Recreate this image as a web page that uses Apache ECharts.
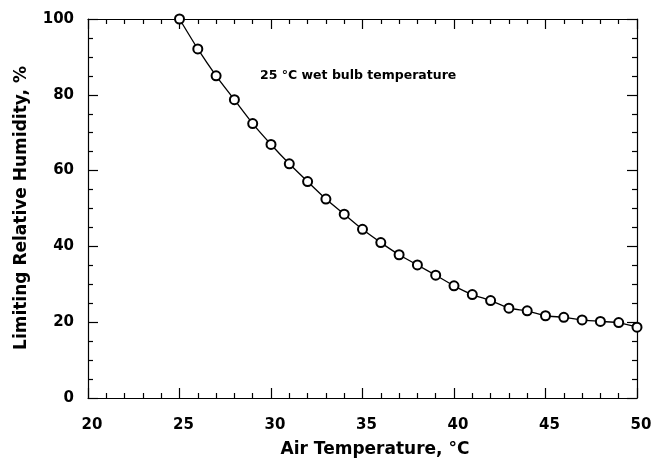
<!DOCTYPE html>
<html>
<head>
<meta charset="utf-8">
<script src="https://cdn.jsdelivr.net/npm/echarts@6/dist/echarts.min.js"></script>
<style>
  html, body { margin: 0; padding: 0; background: #fff; }
  #main { width: 664px; height: 461px; }
</style>
</head>
<body>
<div id="main"></div>
<script>
// air temperature (°C) and limiting relative humidity (%) at 25 °C wet bulb
var airTemp = [25, 26, 27, 28, 29, 30, 31, 32, 33, 34, 35, 36, 37, 38, 39, 40, 41, 42, 43, 44, 45, 46, 47, 48, 49, 50];
var relHumidity = [100, 92.1, 85.0, 78.7, 72.4, 66.9, 61.8, 57.1, 52.5, 48.5, 44.5, 41.0, 37.8, 35.1, 32.4, 29.6, 27.3, 25.7, 23.7, 23.0, 21.7, 21.3, 20.6, 20.2, 19.9, 18.7];

var xTicks = { min: 20, max: 50, interval: 5 };
var yTicks = { min: 0, max: 100, interval: 20 };

var myChart = echarts.init(document.getElementById('main'));

var font = '"DejaVu Sans", Arial, Helvetica, sans-serif';
var lineStyle = { color: '#000', width: 1.2 };

function axisBase(extra) {
	var a = {
		type: 'value',
		axisLine: { show: true, onZero: false, lineStyle: lineStyle },
		axisTick: { show: true, inside: true, length: 10, lineStyle: lineStyle },
		minorTick: { show: true, length: 5, lineStyle: lineStyle },
		splitLine: { show: false },
		axisLabel: { show: false }
	};
	for (var k in extra) a[k] = extra[k];
	return a;
}

var points = [];
for (var i = 0; i < airTemp.length; i++) {
	points.push([airTemp[i], relHumidity[i]]);
}

var option = {
	animation: false,
	backgroundColor: '#fff',
	grid: { left: 88, top: 19, right: 27, bottom: 63 },
	xAxis: [
		axisBase({
			min: xTicks.min, max: xTicks.max, interval: xTicks.interval,
			position: 'bottom',
			minorTick: { show: true, splitNumber: 5, length: 5, lineStyle: lineStyle },
			axisLabel: { show: true, margin: 20, padding: [0, 0, 0, 8], color: '#000', fontSize: 15, fontWeight: 'bold', fontFamily: font }
		}),
		axisBase({
			min: xTicks.min, max: xTicks.max, interval: xTicks.interval,
			position: 'top',
			minorTick: { show: true, splitNumber: 5, length: 5, lineStyle: lineStyle }
		})
	],
	yAxis: [
		axisBase({
			min: yTicks.min, max: yTicks.max, interval: yTicks.interval,
			position: 'left',
			minorTick: { show: true, splitNumber: 4, length: 5, lineStyle: lineStyle },
			axisLabel: { show: true, margin: 14, color: '#000', fontSize: 15, fontWeight: 'bold', fontFamily: font }
		}),
		axisBase({
			min: yTicks.min, max: yTicks.max, interval: yTicks.interval,
			position: 'right',
			minorTick: { show: true, splitNumber: 4, length: 5, lineStyle: lineStyle }
		})
	],
	graphic: [
		{
			type: 'text',
			x: 22, y: 208,
			rotation: Math.PI / 2,
			style: {
				text: 'Limiting Relative Humidity, %',
				fill: '#000',
				font: 'bold 17px ' + font,
				align: 'center',
				verticalAlign: 'middle'
			}
		},
		{
			type: 'text',
			x: 375, y: 450,
			style: {
				text: 'Air Temperature, °C',
				fill: '#000',
				font: 'bold 17px ' + font,
				align: 'center',
				verticalAlign: 'middle'
			}
		},
		{
			type: 'text',
			x: 260, y: 76,
			style: {
				text: '25 °C wet bulb temperature',
				fill: '#000',
				font: 'bold 12.5px ' + font,
				align: 'left',
				verticalAlign: 'middle'
			}
		}
	],
	series: [
		{
			type: 'line',
			data: points,
			xAxisIndex: 0,
			yAxisIndex: 0,
			smooth: 0.2,
			symbol: 'emptyCircle',
			symbolSize: 9,
			clip: false,
			lineStyle: { color: '#000', width: 1.3 },
			itemStyle: { color: '#000', borderColor: '#000', borderWidth: 1.3 }
		}
	]
};

myChart.setOption(option);
</script>
</body>
</html>
